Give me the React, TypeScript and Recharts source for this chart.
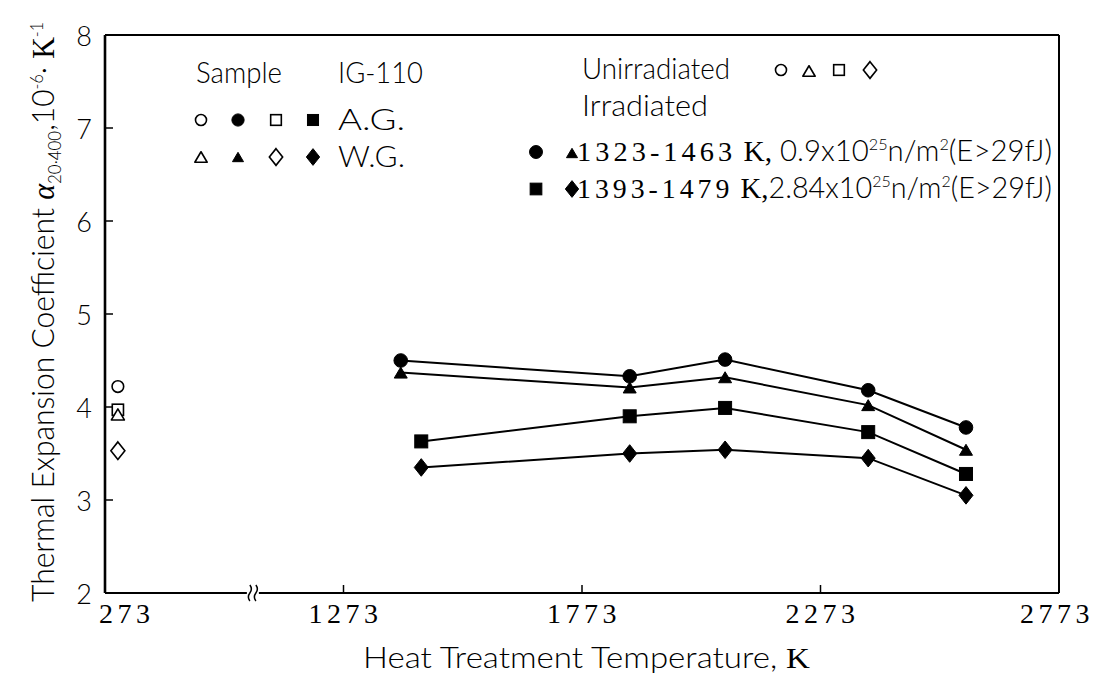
import { ReferenceDot, Scatter, ScatterChart, XAxis, YAxis } from "recharts"

const W = 1098
const H = 677

// heat treatment temperatures, K (first point = as irradiated)
const tempsLowDose = [1393, 1873, 2073, 2373, 2578]
const tempsHighDose = [1436, 1873, 2073, 2373, 2578]

// 0.9x10^25 n/m^2
const agLowDose = [4.5, 4.33, 4.51, 4.18, 3.78]
const wgLowDose = [4.37, 4.21, 4.32, 4.02, 3.54]
// 2.84x10^25 n/m^2
const agHighDose = [3.63, 3.9, 3.99, 3.73, 3.28]
const wgHighDose = [3.35, 3.5, 3.54, 3.45, 3.05]

// unirradiated, room temperature
const unirrTemp = 300
const unirrAgCircle = [4.22]
const unirrWgTriangle = [3.92]
const unirrAgSquare = [3.97]
const unirrWgDiamond = [3.53]

const xTickTemps = [273, 1273, 1773, 2273, 2773]
const yTicks = [2, 3, 4, 5, 6, 7, 8]

// the axis is broken between 273 and 1273: 500 K are cut out
const BREAK_SHIFT = 500
const breakTemp = 583
const toAxis = (t: number) => (t < 1273 ? t + BREAK_SHIFT : t)
const fromAxis = (v: number) => (v < 1273 ? v - BREAK_SHIFT : v)

const pts = (temps: number[], vals: number[]) => vals.map((v, i) => ({ x: toAxis(temps[i]), y: v }))

const SANS = "Lato, 'Liberation Sans Narrow', 'DejaVu Sans Condensed', sans-serif"
const LIGHT = 300
const SERIF = "'Liberation Serif', 'DejaVu Serif', serif"

type Kind = "circle" | "triangle" | "square" | "diamond"

function Marker({ kind, filled, cx, cy, s = 1 }: { kind: Kind; filled: boolean; cx: number; cy: number; s?: number }) {
  const fill = filled ? "#000" : "#fff"
  const sw = filled ? 1 : 1.6
  if (kind === "circle") {
    return <circle cx={cx} cy={cy} r={(filled ? 6.8 : 5.8) * s} fill={fill} stroke="#000" strokeWidth={sw} />
  }
  if (kind === "square") {
    const h = (filled ? 6.5 : 5.6) * s
    return <rect x={cx - h} y={cy - h} width={2 * h} height={2 * h} fill={fill} stroke="#000" strokeWidth={sw} />
  }
  if (kind === "triangle") {
    const a = 6.5 * s
    const h = 5.5 * s
    return (
      <polygon
        points={`${cx},${cy - h} ${cx + a},${cy + h} ${cx - a},${cy + h}`}
        fill={fill}
        stroke="#000"
        strokeWidth={sw}
        strokeLinejoin="round"
      />
    )
  }
  const a = 7 * s
  const h = 8.8 * s
  return (
    <polygon
      points={`${cx},${cy - h} ${cx + a},${cy} ${cx},${cy + h} ${cx - a},${cy}`}
      fill={fill}
      stroke="#000"
      strokeWidth={sw}
    />
  )
}

const shapeOf = (kind: Kind, filled: boolean) => (p: any) => <Marker kind={kind} filled={filled} cx={p.cx} cy={p.cy} />

const XTick = ({ x, y, payload }: any) => {
  const v = payload.value
  const first = v === toAxis(xTickTemps[0])
  const last = v === xTickTemps[xTickTemps.length - 1]
  return (
    <text
      x={first ? x - 6 : last ? x - 2 : x + 2}
      y={y}
      textAnchor={first ? "start" : "middle"}
      fontFamily={SERIF}
      fontSize={28}
      letterSpacing={4.5}
      fill="#000"
    >
      {fromAxis(v)}
    </text>
  )
}

const YTick = ({ x, y, payload }: any) => (
  <text x={x} y={y} textAnchor="end" dominantBaseline="central" fontFamily={SANS} fontWeight={LIGHT} fontSize={27} fill="#000">
    {payload.value}
  </text>
)

const BreakMark = ({ cx, cy }: any) => (
  <g>
    <rect x={cx - 6} y={cy - 3} width={12} height={6} fill="#fff" />
    <path d={`M${cx - 3},${cy - 8} q3,4 0,8 q-3,4 0,8`} fill="none" stroke="#000" strokeWidth={1.5} />
    <path d={`M${cx + 3},${cy - 8} q3,4 0,8 q-3,4 0,8`} fill="none" stroke="#000" strokeWidth={1.5} />
  </g>
)

const Sup = ({ children, size = 16 }: any) => (
  <tspan fontSize={size} dy={-11}>
    {children}
  </tspan>
)

export default function App() {
  const axisStroke = { stroke: "#000", strokeWidth: 2 }
  const tickStroke = { stroke: "#000", strokeWidth: 1.5 }
  const line = { stroke: "#000", strokeWidth: 2 }
  const lettering = { fontFamily: SANS, fontWeight: LIGHT, fontSize: 29 }

  return (
    <div style={{ position: "relative", width: W, height: H, background: "#fff" }}>
      <style>{"body{margin:0}"}</style>
      <ScatterChart width={W} height={H} margin={{ top: 0, right: 0, bottom: 0, left: 0 }}>
        <XAxis
          xAxisId="b"
          type="number"
          dataKey="x"
          orientation="bottom"
          domain={[toAxis(273), 2773]}
          ticks={xTickTemps.map(toAxis)}
          interval={0}
          height={84}
          tickSize={-8}
          tickMargin={38}
          tick={<XTick />}
          axisLine={axisStroke}
          tickLine={tickStroke}
          allowDataOverflow
        />
        <XAxis
          xAxisId="t"
          type="number"
          orientation="top"
          domain={[toAxis(273), 2773]}
          ticks={[1273, 1773, 2273]}
          interval={0}
          height={35}
          tickSize={-8}
          tick={false}
          axisLine={axisStroke}
          tickLine={tickStroke}
        />
        <YAxis
          yAxisId="l"
          type="number"
          dataKey="y"
          domain={[2, 8]}
          ticks={yTicks}
          interval={0}
          width={105}
          tickSize={-8}
          tickMargin={21}
          tick={<YTick />}
          axisLine={{ stroke: "#000", strokeWidth: 2.6 }}
          tickLine={tickStroke}
        />
        <YAxis
          yAxisId="r"
          orientation="right"
          type="number"
          domain={[2, 8]}
          ticks={[3, 4, 5, 6, 7]}
          interval={0}
          width={39}
          tickSize={-8}
          tick={false}
          axisLine={axisStroke}
          tickLine={tickStroke}
        />

        <ReferenceDot xAxisId="b" yAxisId="l" x={toAxis(breakTemp)} y={2} ifOverflow="visible" shape={BreakMark} />

        <Scatter xAxisId="b" yAxisId="l" data={pts(tempsLowDose, agLowDose)} line={line} shape={shapeOf("circle", true)} isAnimationActive={false} />
        <Scatter xAxisId="b" yAxisId="l" data={pts(tempsLowDose, wgLowDose)} line={line} shape={shapeOf("triangle", true)} isAnimationActive={false} />
        <Scatter xAxisId="b" yAxisId="l" data={pts(tempsHighDose, agHighDose)} line={line} shape={shapeOf("square", true)} isAnimationActive={false} />
        <Scatter xAxisId="b" yAxisId="l" data={pts(tempsHighDose, wgHighDose)} line={line} shape={shapeOf("diamond", true)} isAnimationActive={false} />

        <Scatter xAxisId="b" yAxisId="l" data={pts([unirrTemp], unirrAgCircle)} shape={shapeOf("circle", false)} isAnimationActive={false} />
        <Scatter xAxisId="b" yAxisId="l" data={pts([unirrTemp], unirrAgSquare)} shape={shapeOf("square", false)} isAnimationActive={false} />
        <Scatter xAxisId="b" yAxisId="l" data={pts([unirrTemp], unirrWgTriangle)} shape={shapeOf("triangle", false)} isAnimationActive={false} />
        <Scatter xAxisId="b" yAxisId="l" data={pts([unirrTemp], unirrWgDiamond)} shape={shapeOf("diamond", false)} isAnimationActive={false} />
      </ScatterChart>

      <svg width={W} height={H} style={{ position: "absolute", left: 0, top: 0, pointerEvents: "none" }}>
        {/* y axis title */}
        <g transform="translate(54,312) rotate(-90)">
          <text x={0} y={0} textAnchor="middle" {...lettering} fontSize={32} textLength={580} lengthAdjust="spacingAndGlyphs">
            Thermal Expansion Coefficient{" "}
            <tspan fontFamily={SERIF} fontStyle="italic" fontWeight={400}>α</tspan>
            <tspan fontSize={18} dy={7}>20·400</tspan>
            <tspan dy={-7}>,10</tspan>
            <Sup size={17}>-6</Sup>
            <tspan dy={11}>· </tspan>
            <tspan fontFamily={SERIF} fontWeight={400}>K</tspan>
            <Sup size={17}>-1</Sup>
          </text>
        </g>

        {/* x axis title */}
        <text x={363} y={668} {...lettering} textLength={447} lengthAdjust="spacingAndGlyphs">
          Heat Treatment Temperature, <tspan fontFamily={SERIF} fontWeight={400}>K</tspan>
        </text>

        {/* left legend */}
        <text x={196} y={83} {...lettering} textLength={86} lengthAdjust="spacingAndGlyphs">Sample</text>
        <text x={338} y={83} {...lettering} textLength={85} lengthAdjust="spacingAndGlyphs">IG-110</text>
        <Marker kind="circle" filled={false} cx={201} cy={120} s={0.95} />
        <Marker kind="circle" filled cx={238} cy={120} s={0.9} />
        <Marker kind="square" filled={false} cx={276} cy={120} s={0.95} />
        <Marker kind="square" filled cx={313} cy={120} s={0.85} />
        <text x={338} y={130} {...lettering} textLength={67} lengthAdjust="spacingAndGlyphs">A.G.</text>
        <Marker kind="triangle" filled={false} cx={201} cy={157} s={0.95} />
        <Marker kind="triangle" filled cx={238} cy={157} s={0.85} />
        <Marker kind="diamond" filled={false} cx={276} cy={157} s={0.95} />
        <Marker kind="diamond" filled cx={313} cy={157} s={0.95} />
        <text x={338} y={167} {...lettering} textLength={67} lengthAdjust="spacingAndGlyphs">W.G.</text>

        {/* right legend */}
        <text x={582} y={79} {...lettering} textLength={148} lengthAdjust="spacingAndGlyphs">Unirradiated</text>
        <Marker kind="circle" filled={false} cx={781} cy={70} s={0.95} />
        <Marker kind="triangle" filled={false} cx={809} cy={71} s={0.95} />
        <Marker kind="square" filled={false} cx={839} cy={70} s={0.95} />
        <Marker kind="diamond" filled={false} cx={870} cy={70} s={0.95} />
        <text x={582} y={116} {...lettering} textLength={126} lengthAdjust="spacingAndGlyphs">Irradiated</text>

        <Marker kind="circle" filled cx={536} cy={152} s={0.95} />
        <Marker kind="triangle" filled cx={572} cy={153} s={0.85} />
        <text x={577} y={161} {...lettering} textLength={475} lengthAdjust="spacingAndGlyphs">
          <tspan fontFamily={SERIF} fontWeight={400} fontSize={28} letterSpacing={4}>1323-1463</tspan>
          <tspan fontFamily={SERIF} fontWeight={400}> K,</tspan>
          <tspan> 0.9x10</tspan>
          <Sup>25</Sup>
          <tspan dy={11}>n/m</tspan>
          <Sup>2</Sup>
          <tspan dy={11}>(E&gt;29fJ)</tspan>
        </text>

        <Marker kind="square" filled cx={536} cy={189} s={0.9} />
        <Marker kind="diamond" filled cx={572} cy={189} s={0.95} />
        <text x={577} y={198} {...lettering} textLength={475} lengthAdjust="spacingAndGlyphs">
          <tspan fontFamily={SERIF} fontWeight={400} fontSize={28} letterSpacing={4}>1393-1479</tspan>
          <tspan fontFamily={SERIF} fontWeight={400}> K,</tspan>
          <tspan>2.84x10</tspan>
          <Sup>25</Sup>
          <tspan dy={11}>n/m</tspan>
          <Sup>2</Sup>
          <tspan dy={11}>(E&gt;29fJ)</tspan>
        </text>
      </svg>
    </div>
  )
}
